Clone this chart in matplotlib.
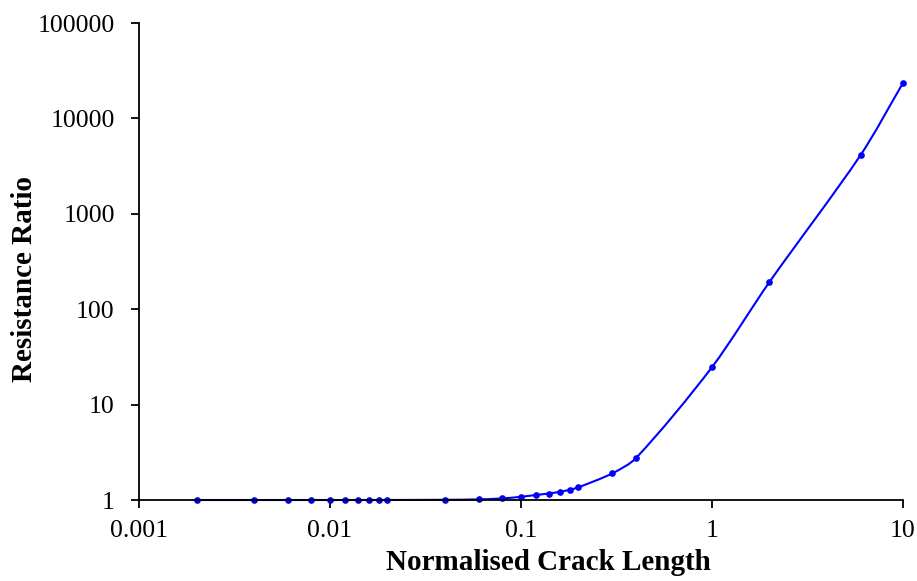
import matplotlib
matplotlib.use("Agg")
import numpy as np
import matplotlib.pyplot as plt
from matplotlib.path import Path
from matplotlib.patches import PathPatch
from matplotlib.ticker import FixedLocator, FixedFormatter, NullLocator

# normalised crack length vs resistance ratio
crack_length = [0.002, 0.004, 0.006, 0.008, 0.01, 0.012, 0.014, 0.016, 0.018, 0.02,
                0.04, 0.06, 0.08, 0.1, 0.12, 0.14, 0.16, 0.18, 0.2, 0.3, 0.4,
                1, 2, 6, 10]
resistance_ratio = [1.0, 1.0, 1.0, 1.0, 1.0, 1.0, 1.0, 1.0, 1.0, 1.001,
                    1.005, 1.015, 1.04, 1.08, 1.13, 1.17, 1.22, 1.28, 1.36, 1.9, 2.75,
                    24.7, 193, 4130, 23500]

x_ticks = [0.001, 0.01, 0.1, 1, 10]
x_labels = ["0.001", "0.01", "0.1", "1", "10"]
y_ticks = [1, 10, 100, 1000, 10000, 100000]
y_labels = ["1", "10", "100", "1000", "10000", "100000"]

plt.rcParams["font.family"] = ["Liberation Serif", "DejaVu Serif"]


def smooth_path(xs, ys, ax_w, ax_h):
    # cubic bezier through the points, built in (scaled) log space;
    # tangent length follows the chord so short segments do not overshoot
    lx = np.log10(np.asarray(xs, dtype=float)) * ax_w / 4.0
    ly = np.log10(np.asarray(ys, dtype=float)) * ax_h / 5.0
    pts = np.column_stack([lx, ly])
    n = len(pts)
    tangents = []
    for i in range(n):
        d = pts[min(i + 1, n - 1)] - pts[max(i - 1, 0)]
        tangents.append(d / np.hypot(*d))
    verts = [pts[0]]
    codes = [Path.MOVETO]
    for i in range(n - 1):
        p1, p2 = pts[i], pts[i + 1]
        k = np.hypot(*(p2 - p1)) * 0.3
        verts += [p1 + tangents[i] * k, p2 - tangents[i + 1] * k, p2]
        codes += [Path.CURVE4] * 3
    verts = np.array(verts)
    verts[:, 0] = 10 ** (verts[:, 0] * 4.0 / ax_w)
    verts[:, 1] = 10 ** (verts[:, 1] * 5.0 / ax_h)
    return Path(verts, codes)


fig = plt.figure(figsize=(9.17, 5.81), dpi=100)
ax = fig.add_axes([0.1516, 0.1394, 0.8331, 0.821])

ax.add_patch(PathPatch(smooth_path(crack_length, resistance_ratio, 764, 477), fill=False,
                       edgecolor="#0000ff", linewidth=1.5, clip_on=False))
ax.plot(crack_length, resistance_ratio, linestyle="none", color="#0000ff",
        marker="o", markersize=3.8, clip_on=False)

ax.set_xscale("log")
ax.set_yscale("log")
ax.set_xlim(0.001, 10)
ax.set_ylim(1, 100000)

ax.xaxis.set_major_locator(FixedLocator(x_ticks))
ax.xaxis.set_major_formatter(FixedFormatter(x_labels))
ax.yaxis.set_major_locator(FixedLocator(y_ticks))
ax.yaxis.set_major_formatter(FixedFormatter(y_labels))
ax.xaxis.set_minor_locator(NullLocator())
ax.yaxis.set_minor_locator(NullLocator())

for side in ["top", "right"]:
    ax.spines[side].set_visible(False)
for side in ["left", "bottom"]:
    ax.spines[side].set_linewidth(1.3)

ax.tick_params(axis="both", direction="out", length=5.5, width=1.3, labelsize=18.5)
ax.tick_params(axis="x", pad=9)
ax.tick_params(axis="y", pad=12)

fig.text(0.598, 0.031, "Normalised Crack Length", fontsize=21, fontweight="bold",
         ha="center", va="center")
fig.text(0.027, 0.52, "Resistance Ratio", fontsize=21, fontweight="bold",
         ha="center", va="center", rotation=90)

fig.savefig("out.png", dpi=100)
